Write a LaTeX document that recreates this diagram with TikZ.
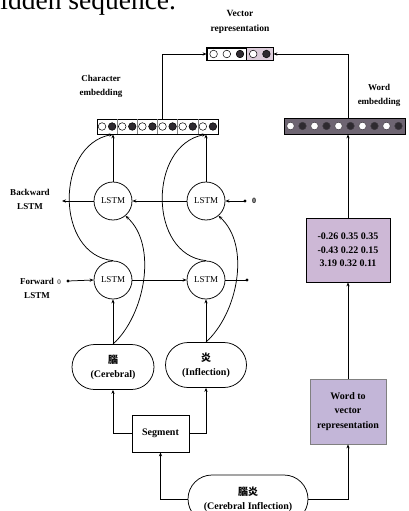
\documentclass[tikz,border=0pt]{standalone}
\usepackage{fontspec}
\setmainfont{Liberation Serif}
\newfontfamily\cjk{Noto Sans CJK TC}
\usetikzlibrary{arrows.meta,shapes.misc}
\definecolor{wordfill}{HTML}{6E6572}
\definecolor{matfill}{HTML}{CDB8D6}
\definecolor{wvfill}{HTML}{C3B6D8}
\definecolor{vecfill}{HTML}{DCCCDA}
\definecolor{dotdark}{HTML}{2E2A30}
\begin{document}
\begin{tikzpicture}[x=1pt,y=-1pt,
  line width=0.75pt,
  >={Stealth[length=4pt,width=3.2pt]},
  lab/.style={font=\fontsize{9}{14}\selectfont\bfseries, align=center, inner sep=0pt},
  lstm/.style={circle, draw, minimum size=38pt, inner sep=0pt, font=\fontsize{9}{10}\selectfont},
  charnode/.style={rounded rectangle, draw, minimum height=45pt, inner sep=0pt, align=center,
    font=\fontsize{10}{14}\selectfont\bfseries},
  plainbox/.style={draw, inner sep=0pt, align=center, font=\fontsize{10}{14}\selectfont\bfseries},
  cell/.style={draw, line width=0.5pt},
  ]
\useasboundingbox (0,0) rectangle (408,511);

% running text above the figure
\node[anchor=base west, inner sep=0pt, font=\fontsize{27.5}{30}\selectfont] (caption) at (-13.7,9.5) {hidden sequence.};

% ---------- vector representation ----------
\node[lab, font=\fontsize{9.5}{15}\selectfont\bfseries] (veclab) at (240,22) {Vector\\representation};
\node[draw, fill=white, minimum width=66pt, minimum height=12pt, inner sep=0pt] (vec) at (240,54) {};
\fill[vecfill] (246.6,48) rectangle (273,60);
\draw (246.6,48) -- (246.6,60);
\draw (vec.north west) rectangle (vec.south east);
\foreach \cx/\cc in {213.6/white, 226.8/white, 240/dotdark, 253.2/white, 266.4/dotdark}
  \filldraw[cell, fill=\cc] (\cx,54) circle (3.8);

% ---------- character embedding ----------
\node[lab] (charlab) at (101,86) {Character\\embedding};
\node[draw, fill=white, minimum width=121pt, minimum height=15pt, inner sep=0pt] (charemb) at (157.5,126.5) {};
\foreach \i in {0,...,11}{
  \ifodd\i \def\cc{dotdark}\else\def\cc{white}\fi
  \filldraw[cell, fill=\cc] (102.04+10.08*\i,126.5) circle (3.8);
}
\foreach \i in {2,4,6,8,10}
  \draw[line width=0.4pt, gray] (97+10.08*\i,119) -- (97+10.08*\i,134);

% ---------- word embedding ----------
\node[lab] (wordlab) at (379,95) {Word\\embedding};
\node[draw, fill=wordfill, minimum width=121pt, minimum height=16pt, inner sep=0pt] (wordemb) at (344.5,126) {};
\foreach \i in {0,...,9}{
  \ifodd\i \def\cc{dotdark}\else\def\cc{white}\fi
  \filldraw[cell, draw=wordfill!60!black, fill=\cc] (290.5+12*\i,126) circle (3.8);
}

% ---------- LSTM cells ----------
\node[lstm] (bl) at (113,201) {LSTM};
\node[lstm] (br) at (206,201) {LSTM};
\node[lstm] (fl) at (113,280) {LSTM};
\node[lstm] (fr) at (206,280) {LSTM};

\node[lab] (bwlab) at (30,199) {Backward\\LSTM};
\node[lab] (fwlab) at (37,288) {Forward\\LSTM};
\node[font=\fontsize{7}{8}\selectfont, inner sep=0pt] (fzero) at (59,282) {0};
\node[font=\fontsize{8}{9}\selectfont\bfseries, inner sep=0pt] (bzero) at (254,201) {0};
\coordinate (bwout) at (62,201);
\coordinate (bwin) at (245,201);
\coordinate (fwin) at (68,281);
\coordinate (fwout) at (247,280);
\fill (bwin) circle (1.6);
\fill (fwin) circle (1.6);
\fill (fwout) circle (1.6);

% ---------- input characters ----------
\node[charnode, minimum width=82pt] (cer) at (113,367) {{\cjk\bfseries 腦}\\(Cerebral)};
\node[charnode, minimum width=81pt] (inf) at (206,365) {{\cjk\bfseries 炎}\\(Inflection)};
\node[plainbox, minimum width=57pt, minimum height=37pt] (seg) at (160.5,433.5) {Segment};
\node[charnode, minimum width=120pt, minimum height=48pt] (root) at (248,499) {{\cjk\bfseries 腦炎}\\(Cerebral Inflection)};

% ---------- word branch ----------
\node[plainbox, fill=matfill, minimum width=84pt, minimum height=64pt,
      font=\fontsize{10}{13.5}\selectfont\bfseries] (mat) at (348,250)
      {-0.26 0.35 0.35\\-0.43 0.22 0.15\\3.19 0.32 0.11};
\node[plainbox, draw=gray, fill=wvfill, minimum width=76pt, minimum height=65pt,
      font=\fontsize{10}{14.5}\selectfont\bfseries] (w2v) at (348,411.5)
      {Word to\\vector\\representation};

% ---------- connectors ----------
\coordinate (cjoin) at (162,54);
\coordinate (wjoin) at (348,54);
\draw[->] (charemb.north -| cjoin) -- (cjoin) -- (vec.west);
\draw[->] (wordemb.north -| wjoin) -- (wjoin) -- (vec.east);

\draw[->] (root.west) -| (seg.south);
\draw[->] (root.east) -| (w2v.south);
\draw[->] (w2v.north) -- (mat.south);
\draw[->] (mat.north) -- (mat.north |- wordemb.south);

\draw[->] (seg.west) -| (cer.south);
\draw[->] (seg.east) -| (inf.south);

% forward / backward chains
\draw[->] (bl.west) -- (bwout);
\draw[->] (br.west) -- (bl.east);
\draw[->] (bwin) -- (br.east);
\draw[->] (fwin) -- (fl.west);
\draw[->] (fl.east) -- (fr.west);
\draw (fr.east) -- (fwout);

% left character column
\draw[->] (cer.north) -- (fl.south);
\draw[->] (cer.north) .. controls (145,315) and (158,245) .. (bl.-50);
\draw[->] (bl.north) -- (bl |- charemb.south);
\draw[->] (fl.north) .. controls (55,255) and (55,145) .. (bl |- charemb.south);

% right character column
\draw[->] (inf.north) -- (fr.south);
\draw[->] (inf.north) .. controls (238,313) and (251,245) .. (br.-50);
\draw[->] (br.north) -- (br |- charemb.south);
\draw[->] (fr.north) .. controls (148,255) and (148,145) .. (br |- charemb.south);
\end{tikzpicture}
\end{document}
